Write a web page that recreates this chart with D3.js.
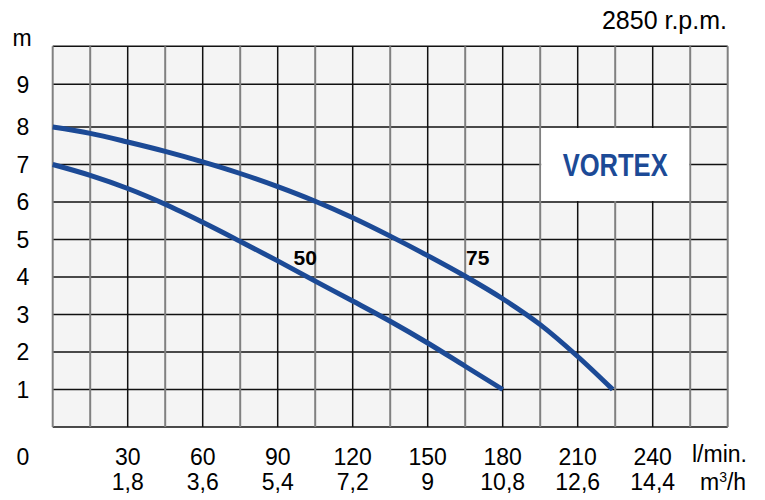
<!DOCTYPE html>
<html>
<head>
<meta charset="utf-8">
<script src="https://cdn.jsdelivr.net/npm/d3@7"></script>
<style>
  body { margin: 0; background: #fff; }
  svg { display: block; font-family: 'Liberation Sans', Arial, sans-serif; }
</style>
</head>
<body>
<div id="chart"></div>
<script>
// ===== PUMP CURVE CHART (VORTEX, 2850 r.p.m.) =====

// flow (l/min) and head (m)
const flow75 = [0, 15, 30, 45, 60, 75, 90, 105, 120, 135, 150, 165, 180, 195, 210, 224];
const head75 = [8, 7.83, 7.6, 7.35, 7.07, 6.76, 6.41, 6.02, 5.58, 5.09, 4.57, 4.02, 3.42, 2.73, 1.88, 1];
const flow50 = [0, 15, 30, 45, 60, 75, 90, 105, 120, 135, 150, 165, 180];
const head50 = [7, 6.71, 6.36, 5.94, 5.46, 4.95, 4.43, 3.89, 3.36, 2.82, 2.24, 1.62, 1];

const xTicks = [30, 60, 90, 120, 150, 180, 210, 240];
const m3hLabels = ['1,8', '3,6', '5,4', '7,2', '9', '10,8', '12,6', '14,4'];
const yTicks = [1, 2, 3, 4, 5, 6, 7, 8, 9];

const width = 765, height = 500;
const blue = '#1c4a96';

const svg = d3.select('#chart').append('svg')
  .attr('width', width)
  .attr('height', height);

const x = d3.scaleLinear().domain([0, 270]).range([52.7, 727.7]);
// grid is not quite even at the top, so use a piecewise scale
const y = d3.scaleLinear().domain([0, 8, 9, 10]).range([427, 127, 84.3, 46.3]);

// background of the grid
svg.append('rect')
  .attr('x', x(0)).attr('y', y(10))
  .attr('width', x(270) - x(0)).attr('height', y(0) - y(10))
  .attr('fill', '#f4f4f4');

// horizontal grid lines
svg.append('g').selectAll('line')
  .data(d3.range(0, 11))
  .join('line')
  .attr('x1', x(0)).attr('x2', x(270))
  .attr('y1', d => y(d)).attr('y2', d => y(d))
  .attr('stroke', '#111')
  .attr('stroke-width', 1.5);

// vertical grid lines: every 15 l/min, the 30s are black, the rest grey
svg.append('g').selectAll('line')
  .data(d3.range(0, 271, 15))
  .join('line')
  .attr('x1', d => x(d)).attr('x2', d => x(d))
  .attr('y1', y(10)).attr('y2', y(0))
  .attr('stroke', d => (d % 30 === 0 && d > 0 && d < 270) ? '#111' : '#808080')
  .attr('stroke-width', d => (d % 30 === 0 && d > 0 && d < 270) ? 1.5 : 2);

// VORTEX box
svg.append('rect')
  .attr('x', x(195) + 1).attr('y', y(8) + 1)
  .attr('width', x(255) - x(195) - 2).attr('height', y(6) - y(8) - 2)
  .attr('fill', '#fff');

svg.append('text')
  .attr('x', x(225)).attr('y', y(7) + 11)
  .attr('text-anchor', 'middle')
  .attr('font-size', 31)
  .attr('font-weight', 700)
  .attr('textLength', 105)
  .attr('lengthAdjust', 'spacingAndGlyphs')
  .attr('fill', blue)
  .text('VORTEX');

// curves
const line = d3.line()
  .x(d => x(d[0]))
  .y(d => y(d[1]))
  .curve(d3.curveMonotoneX);

[[flow75, head75], [flow50, head50]].forEach(([f, h]) => {
  svg.append('path')
    .datum(f.map((v, i) => [v, h[i]]))
    .attr('d', line)
    .attr('fill', 'none')
    .attr('stroke', blue)
    .attr('stroke-width', 5);
});

// curve labels
svg.append('text')
  .attr('x', x(101)).attr('y', y(4) - 12)
  .attr('text-anchor', 'middle')
  .attr('font-size', 21).attr('font-weight', 700)
  .text('50');
svg.append('text')
  .attr('x', x(170)).attr('y', y(4) - 12)
  .attr('text-anchor', 'middle')
  .attr('font-size', 21).attr('font-weight', 700)
  .text('75');

// y axis labels
svg.append('g').selectAll('text')
  .data(yTicks)
  .join('text')
  .attr('x', 23).attr('y', d => y(d))
  .attr('dy', '0.36em')
  .attr('text-anchor', 'middle')
  .attr('font-size', 23)
  .text(d => d);

svg.append('text')
  .attr('x', 22).attr('y', y(10))
  .attr('text-anchor', 'middle')
  .attr('font-size', 23)
  .text('m');

svg.append('text')
  .attr('x', 23).attr('y', 465)
  .attr('text-anchor', 'middle')
  .attr('font-size', 23)
  .text('0');

// x axis labels, two rows
svg.append('g').selectAll('text')
  .data(xTicks)
  .join('text')
  .attr('x', d => x(d)).attr('y', 465)
  .attr('text-anchor', 'middle')
  .attr('font-size', 23)
  .text(d => d);

svg.append('g').selectAll('text')
  .data(xTicks)
  .join('text')
  .attr('x', d => x(d)).attr('y', 490)
  .attr('text-anchor', 'middle')
  .attr('font-size', 23)
  .text((d, i) => m3hLabels[i]);

svg.append('text')
  .attr('x', 692).attr('y', 462)
  .attr('font-size', 23)
  .text('l/min.');

const unit = svg.append('text')
  .attr('x', 700).attr('y', 490)
  .attr('font-size', 23);
unit.append('tspan').text('m');
unit.append('tspan').attr('font-size', 14).attr('dy', -8).text('3');
unit.append('tspan').attr('dy', 8).text('/h');

svg.append('text')
  .attr('x', 727).attr('y', 29)
  .attr('text-anchor', 'end')
  .attr('font-size', 25)
  .text('2850 r.p.m.');
</script>
</body>
</html>
